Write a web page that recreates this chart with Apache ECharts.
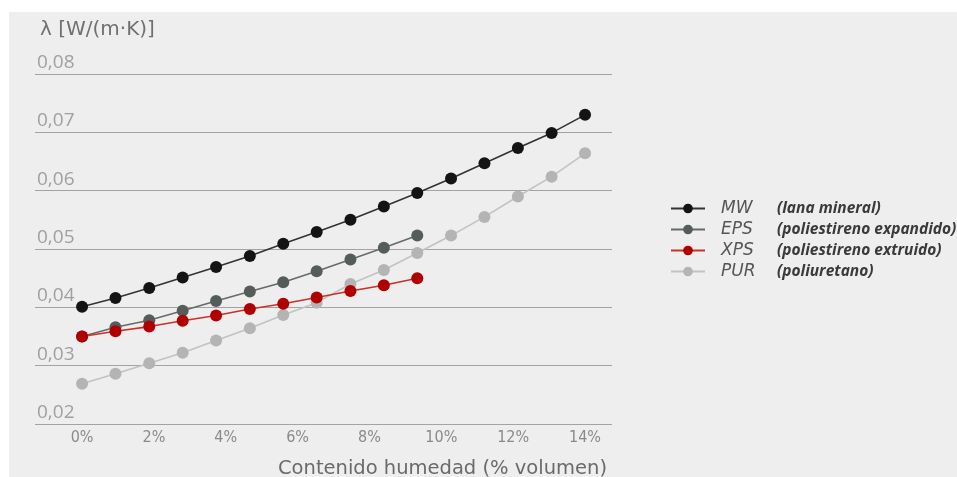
<!DOCTYPE html>
<html>
<head>
<meta charset="utf-8">
<script src="https://cdn.jsdelivr.net/npm/echarts@6/dist/echarts.min.js"></script>
<style>
html,body{margin:0;padding:0;background:#ffffff;}
#wrap{position:absolute;left:9px;top:12px;width:948px;height:465px;background:#eeeeee;}
#chart{position:absolute;left:-9px;top:-12px;width:957px;height:477px;}
</style>
</head>
<body>
<div id="wrap"><div id="chart"></div></div>
<script>
// moisture content (% volume) for each measured point
var xs = [0, 0.93, 1.87, 2.8, 3.73, 4.67, 5.6, 6.53, 7.47, 8.4, 9.33, 10.27, 11.2, 12.13, 13.07, 14];
var xTicks = [0, 2, 4, 6, 8, 10, 12, 14];
var mwValues  = [0.0401, 0.0416, 0.0433, 0.0451, 0.0469, 0.0488, 0.0509, 0.0529, 0.0550, 0.0573, 0.0596, 0.0621, 0.0647, 0.0673, 0.0699, 0.0730];
var epsValues = [0.0350, 0.0366, 0.0378, 0.0394, 0.0411, 0.0427, 0.0443, 0.0462, 0.0482, 0.0502, 0.0523];
var xpsValues = [0.0350, 0.0359, 0.0367, 0.0377, 0.0386, 0.0397, 0.0406, 0.0417, 0.0428, 0.0438, 0.0450];
var purValues = [0.0269, 0.0286, 0.0304, 0.0322, 0.0343, 0.0364, 0.0387, 0.0408, 0.0440, 0.0464, 0.0493, 0.0523, 0.0555, 0.0590, 0.0624, 0.0664];
var names = {MW: '(lana mineral)', EPS: '(poliestireno expandido)', XPS: '(poliestireno extruido)', PUR: '(poliuretano)'};

function pairs(vals){ return vals.map(function(v,i){ return [xs[i], v]; }); }

var chart = echarts.init(document.getElementById('chart'), null, {renderer:'canvas'});
function mk(name, vals, dot, line){
  return {
    name: name, type: 'line', data: pairs(vals),
    symbol: 'circle', symbolSize: 12,
    itemStyle: {color: dot, borderWidth: 0},
    lineStyle: {color: line, width: 1.6},
    emphasis: {disabled: true}, animation: false
  };
}
chart.setOption({
  backgroundColor: 'transparent',
  animation: false,
  title: [
    {text: 'λ [W/(m·K)]', left: 35, top: 15, textStyle: {fontFamily: 'DejaVu Sans', fontSize: 20, fontWeight: 'normal', color: '#707070'}},
    {text: 'Contenido humedad (% volumen)', left: 273, top: 454, textStyle: {fontFamily: 'DejaVu Sans', fontSize: 19.5, fontWeight: 'normal', color: '#6a6a6a'}}
  ],
  grid: {left: 35, right: 345, top: 74, bottom: 53, containLabel: false},
  legend: {
    orient: 'vertical', left: 665, top: 195, itemGap: 4,
    itemWidth: 34, itemHeight: 12,
    data: ['MW', 'EPS', 'XPS', 'PUR'],
    formatter: function(n){ return '{a|' + n + '}{b|' + names[n] + '}'; },
    textStyle: {
      rich: {
        a: {fontFamily: 'DejaVu Sans', fontStyle: 'italic', fontSize: 17, color: '#555555', width: 56, padding: [0,0,0,11], height: 18},
        b: {fontFamily: 'Open Sans', fontStyle: 'italic', fontWeight: 'bold', fontSize: 15.5, color: '#3a3a3a', height: 18}
      }
    }
  },
  xAxis: {
    type: 'value', min: -1.31, max: 14.75,
    axisLine: {show: false}, axisTick: {show: false}, splitLine: {show: false},
    axisLabel: {customValues: xTicks, formatter: function(v){ return v + '%'; }, margin: 6,
      fontFamily: 'DejaVu Sans Condensed, Roboto, sans-serif', fontSize: 16, color: '#8a8a8a'}
  },
  yAxis: {
    type: 'value', min: 0.02, max: 0.08, interval: 0.01,
    axisLine: {show: false}, axisTick: {show: false},
    splitLine: {lineStyle: {color: '#a3a3a3', width: 1.2}},
    axisLabel: {inside: true, margin: 2, verticalAlign: 'bottom', padding: [0,0,2,0],
      formatter: function(v){ return v.toFixed(2).replace('.', ','); },
      fontFamily: 'Open Sans', fontSize: 19, color: '#a0a0a0'}
  },
  series: [
    mk('PUR', purValues, '#b4b4b4', '#c2c2c2'),
    mk('EPS', epsValues, '#555d5a', '#666b69'),
    mk('MW',  mwValues,  '#141414', '#333333'),
    mk('XPS', xpsValues, '#b00000', '#c8322a')
  ]
});
</script>
</body>
</html>
